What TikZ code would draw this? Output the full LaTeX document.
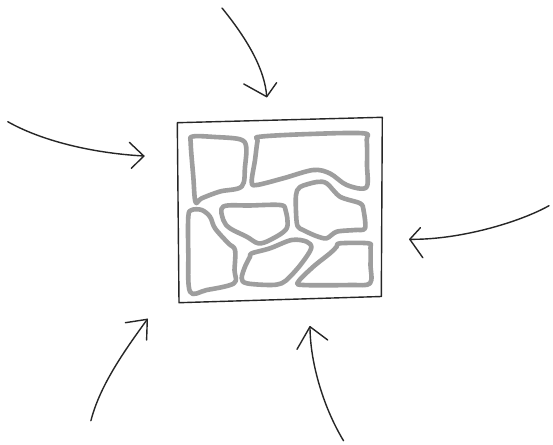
\documentclass[tikz,border=0pt]{standalone}
\begin{document}
\begin{tikzpicture}[x=1pt,y=-1pt,
  ink/.style={draw=black!85,line width=1.4pt,line cap=round,line join=round},
  blob/.style={draw=black!38,line width=4.6pt,line join=round}]
\useasboundingbox[fill=white] (0,0) rectangle (553,444);
% square
\coordinate (sqA) at (177.3,122.7);
\coordinate (sqB) at (382.3,117.3);
\coordinate (sqC) at (381.3,296.5);
\coordinate (sqD) at (179,302.7);
% blobs
\draw[blob] plot[smooth cycle,tension=0.55] coordinates {(192.7,136.5) (215,137) (240,139.3) (246.2,146.7) (245,166.7) (241.7,186.5) (220,191.5) (201.7,198.3) (195.5,202) (193.3,176.7) (190.7,143.3)};
\draw[blob] plot[smooth cycle,tension=0.55] coordinates {(260,136.7) (310,134) (363.3,133.3) (366.7,140) (367,165) (366.2,187.5) (346.7,185) (330,173.5) (313.3,170) (283.3,178.3) (256.7,185) (251.7,181.7) (255,160) (257.5,141)};
\draw[blob] plot[smooth cycle,tension=0.55] coordinates {(223.3,206.5) (250,205.5) (280,205) (285.5,210) (286.7,228.3) (270,240) (258.3,243.3) (246.7,236.7) (230,228.3) (223.3,220)};
\draw[blob] plot[smooth cycle,tension=0.5] coordinates {(300,187) (316.7,182) (326.7,183.3) (340,196.7) (360,203.3) (363.5,210) (365,228.3) (355,230) (336.7,231.7) (326.7,238.3) (316.7,236.2) (304,230.5) (297.5,226) (296,212) (296,195)};
\draw[blob] plot[smooth cycle,tension=0.55] coordinates {(191.7,210) (201.7,210) (210,216.7) (215,228.3) (228.3,243.3) (235,250) (234.5,270) (234,283.3) (206.7,290) (190,291.7) (188.3,253.3) (188.3,216.7)};
\draw[blob] plot[smooth cycle,tension=0.55] coordinates {(251.7,253.3) (270,248.3) (291.7,240) (306.7,241.7) (311.2,248.3) (301.7,263.3) (290,276.7) (281.7,283.3) (270,285) (246.7,283.3) (241.7,278.3) (245,266.7) (250,256.7)};
\draw[blob] plot[smooth cycle,tension=0.55] coordinates {(340,243.3) (368.3,243.3) (370.5,248) (370.5,265) (370,283.3) (350,285) (303.3,285) (298.3,281.7) (313.3,266.7) (330,253.3) (336.7,246.7)};
\draw[ink] (sqA) -- (sqB) -- (sqC) -- (sqD) -- cycle;
% arrows: start, tip, wings
\coordinate (tS) at (222,8);     \coordinate (tT) at (266.7,96.7);
\coordinate (tW1) at (243.8,84); \coordinate (tW2) at (276.6,82.7);
\coordinate (lS) at (7.8,121.7);  \coordinate (lT) at (143.8,156);
\coordinate (lW1) at (129.3,142.3); \coordinate (lW2) at (131.4,168.3);
\coordinate (rS) at (549,205.7);  \coordinate (rT) at (409.8,239.3);
\coordinate (rW1) at (420.4,227.7); \coordinate (rW2) at (422.8,257.7);
\coordinate (blS) at (90.9,420.7); \coordinate (blT) at (147.3,319.3);
\coordinate (blW1) at (125.4,322.7); \coordinate (blW2) at (146.6,340);
\coordinate (bS) at (343.5,440.7); \coordinate (bT) at (310,326.7);
\coordinate (bW1) at (297,349.3); \coordinate (bW2) at (327.7,340);
\draw[ink] (tS) .. controls (248,40) and (265,70) .. (tT);
\draw[ink] (tW1) -- (tT) -- (tW2);
\draw[ink] (lS) .. controls (40,140) and (90,153) .. (lT);
\draw[ink] (lW1) -- (lT) -- (lW2);
\draw[ink] (rS) .. controls (520,222) and (460,240) .. (rT);
\draw[ink] (rW1) -- (rT) -- (rW2);
\draw[ink] (blS) .. controls (100,385) and (125,350) .. (blT);
\draw[ink] (blW1) -- (blT) -- (blW2);
\draw[ink] (bS) .. controls (322,405) and (310,360) .. (bT);
\draw[ink] (bW1) -- (bT) -- (bW2);
\end{tikzpicture}
\end{document}
